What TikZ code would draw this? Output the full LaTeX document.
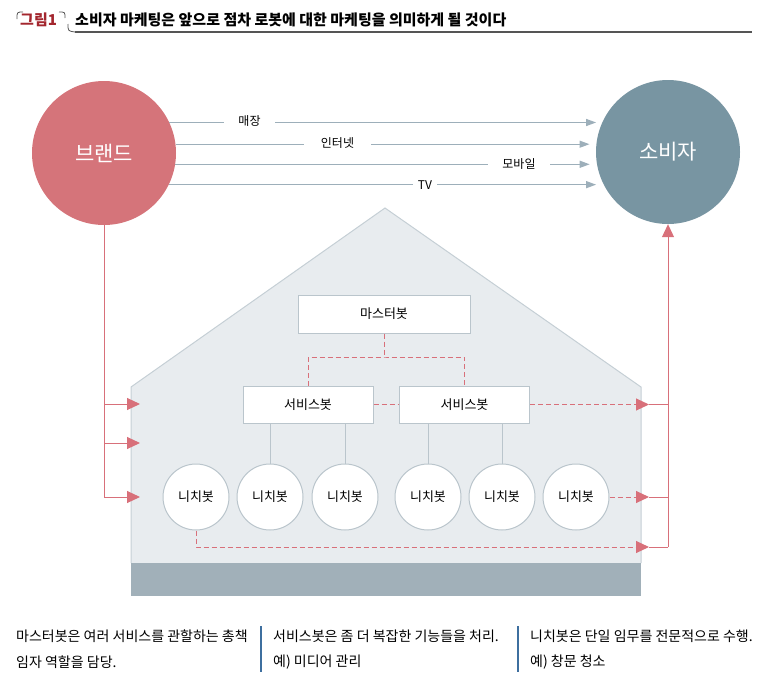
\documentclass[tikz,border=0pt]{standalone}
\usepackage{fontspec}
\setmainfont{Noto Sans CJK KR}
\usepackage{xcolor}
\usepackage{tikz}
\usetikzlibrary{arrows.meta}

\definecolor{brandred}{HTML}{D5747A}
\definecolor{redline}{HTML}{D8707A}
\definecolor{consumer}{HTML}{7895A2}
\definecolor{chanline}{HTML}{9DAFBA}
\definecolor{housefill}{HTML}{E8ECEF}
\definecolor{houseline}{HTML}{C5CFD5}
\definecolor{basegray}{HTML}{A1B0B9}
\definecolor{boxline}{HTML}{BAC5CC}
\definecolor{barblue}{HTML}{3E6F9F}
\definecolor{figred}{HTML}{A3262E}
\definecolor{headline}{HTML}{555555}

\begin{document}
\begin{tikzpicture}[x=1pt, y=-1pt,
    bigcirc/.style={circle, minimum size=144pt, inner sep=0pt, text=white,
                    font=\fontsize{21}{25}\selectfont},
    botbox/.style={draw=boxline, fill=white, line width=1pt, minimum width=130pt,
                   minimum height=37pt, inner sep=0pt, font=\fontsize{13}{15}\selectfont},
    nichebot/.style={circle, draw=boxline, fill=white, line width=1pt, minimum size=66pt,
                     inner sep=0pt, font=\fontsize{13}{15}\selectfont},
    chan/.style={fill=white, inner xsep=14pt, inner ysep=1pt, font=\fontsize{12}{14}\selectfont},
    chanarrow/.style={-{Triangle[length=10pt,width=7pt]}, chanline, line width=1.3pt},
    redarrow/.style={-{Triangle[length=13pt,width=12pt]}, redline, line width=1pt},
    reddash/.style={redline, line width=1pt, dash pattern=on 5pt off 3pt},
    note/.style={anchor=west, inner sep=0pt, font=\fontsize{14}{16}\selectfont}]
    \useasboundingbox (0,0) rectangle (773,699);

    % header
    \node [anchor=west, inner sep=0pt, text=figred, font=\bfseries\fontsize{15}{17}\selectfont]
        (fignum) at (20,20) {그림1};
    \node [anchor=west, inner sep=0pt, font=\bfseries\fontsize{15}{17}\selectfont]
        (title) at (75,20) {소비자 마케팅은 앞으로 점차 로봇에 대한 마케팅을 의미하게 될 것이다};
    \draw [headline, line width=0.8pt] (17,19) .. controls (17,12) .. (23,12);
    \draw [headline, line width=0.8pt] (59,12) .. controls (65,12) .. (65,18);
    \draw [headline, line width=0.8pt] (68,24) .. controls (68,31) .. (75,32);
    \draw [headline, line width=1.6pt] (75,32) -- (752,32);

    % house
    \coordinate (hL) at (131,387);
    \coordinate (hT) at (385,208);
    \coordinate (hR) at (641,387);
    \fill [housefill] (131,563) -- (hL) -- (hT) -- (hR) -- (641,563) -- cycle;
    \draw [houseline, line width=1pt] (131,563) -- (hL) -- (hT) -- (hR) -- (641,563);
    \fill [basegray] (131,563) rectangle (641,596);

    % brand and consumer
    \node [bigcirc, fill=brandred] (brand) at (104,153) {브랜드};
    \node [bigcirc, fill=consumer] (cons) at (668,152) {소비자};

    % channels
    \draw [chanarrow, shorten >=7pt] (brand.25.9) -- (brand.25.9 -| cons.154.1);
    \draw [chanarrow, shorten >=7pt] (brand.7.6) -- (brand.7.6 -| cons.172.4);
    \draw [chanarrow, shorten >=7pt] (brand.-9.2) -- (brand.-9.2 -| cons.189.2);
    \draw [chanarrow, shorten >=7pt] (brand.-26.8) -- (brand.-26.8 -| cons.206.8);
    \node [chan] (shop) at (249.5,121) {매장};
    \node [chan, inner xsep=17pt] (web) at (337.5,143) {인터넷};
    \node [chan] (mobile) at (519,164) {모바일};
    \node [chan, inner xsep=5pt] (tv) at (425,185) {TV};

    % bots
    \node [botbox, minimum width=172pt, minimum height=38pt] (master) at (384,314) {마스터봇};
    \node [botbox] (servL) at (308,404.5) {서비스봇};
    \node [botbox] (servR) at (464.5,404.5) {서비스봇};
    \foreach \x [count=\i] in {196,270,345,428,502,576}
        \node [nichebot] (niche\i) at (\x,497) {니치봇};

    \draw [boxline, line width=1pt] (servL.south -| niche2) -- (niche2.north);
    \draw [boxline, line width=1pt] (servL.south -| niche3) -- (niche3.north);
    \draw [boxline, line width=1pt] (servR.south -| niche4) -- (niche4.north);
    \draw [boxline, line width=1pt] (servR.south -| niche5) -- (niche5.north);

    % dashed links inside the house
    \coordinate (mj) at (384,357);
    \draw [reddash] (master.south) -- (mj);
    \draw [reddash] (servL.north) |- (mj) -| (servR.north);
    \draw [reddash] (servL.east) -- (servR.west);

    % brand into the house
    \coordinate (lS) at (104,404);
    \coordinate (lM) at (104,443);
    \coordinate (lB) at (104,497);
    \coordinate (hS) at (140,404);
    \coordinate (hM) at (140,443);
    \coordinate (hB) at (140,497);
    \draw [redline, line width=1pt] (brand.south) -- (lB);
    \draw [redarrow] (lS) -- (hS);
    \draw [redarrow] (lM) -- (hM);
    \draw [redarrow] (lB) -- (hB);

    % house out to consumer
    \coordinate (oS) at (649,404.5);
    \coordinate (oN) at (649,497);
    \coordinate (oB) at (649,547);
    \coordinate (jS) at (668,404.5);
    \coordinate (jN) at (668,497);
    \coordinate (jB) at (668,547);
    \draw [reddash, -{Triangle[length=13pt,width=12pt]}] (servR.east) -- (oS);
    \draw [reddash, -{Triangle[length=13pt,width=12pt]}] (niche6.east) -- (oN);
    \draw [reddash, -{Triangle[length=13pt,width=12pt]}] (niche1.south) |- (oB);
    \draw [redline, line width=1pt] (oS) -- (jS) (oN) -- (jN) (oB) -- (jB);
    \draw [redarrow] (jB) -- (cons.south);

    % notes
    \node [note] (n1a) at (16,636) {마스터봇은 여러 서비스를 관할하는 총책};
    \node [note] (n1b) at (16,662) {임자 역할을 담당.};
    \node [note] (n2a) at (273,636) {서비스봇은 좀 더 복잡한 기능들을 처리.};
    \node [note] (n2b) at (273,662) {예) 미디어 관리};
    \node [note] (n3a) at (530,636) {니치봇은 단일 임무를 전문적으로 수행.};
    \node [note] (n3b) at (530,662) {예) 창문 청소};
    \draw [barblue, line width=1.6pt] (261,626) -- (261,672);
    \draw [barblue, line width=1.6pt] (518,626) -- (518,672);
\end{tikzpicture}
\end{document}
